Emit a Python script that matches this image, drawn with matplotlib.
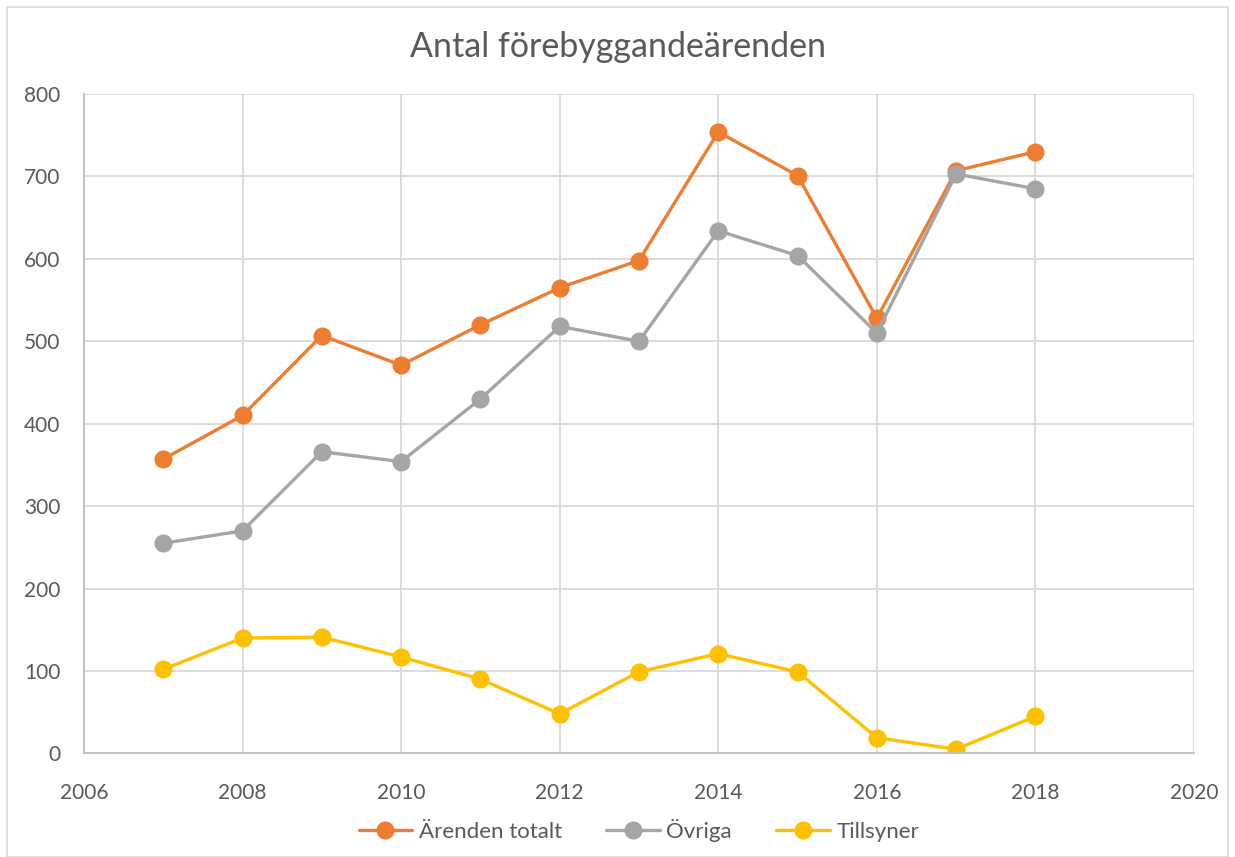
import matplotlib.pyplot as plt
from matplotlib.patches import Rectangle

plt.rcParams['font.family'] = ['Lato', 'DejaVu Sans']

years = [2007, 2008, 2009, 2010, 2011, 2012, 2013, 2014, 2015, 2016, 2017, 2018]
arenden_totalt = [357, 410, 507, 471, 520, 565, 598, 754, 701, 528, 707, 730]
ovriga = [255, 270, 366, 354, 430, 518, 500, 634, 604, 510, 703, 685]
tillsyner = [102, 140, 141, 117, 90, 48, 99, 121, 99, 19, 5, 45]

series = [
    ("Ärenden totalt", arenden_totalt, "#ED7D31"),
    ("Övriga", ovriga, "#A5A5A5"),
    ("Tillsyner", tillsyner, "#FFC000"),
]

text_color = "#595959"

fig = plt.figure(figsize=(12.35, 8.57), dpi=100)
ax = fig.add_axes([0.068, 0.1209, 0.8988, 0.7694])

for name, vals, color in series:
    ax.plot(years, vals, color=color, linewidth=2.4, marker='o', markersize=12,
            label=name, solid_capstyle='round')

ax.set_xlim(2006, 2020)
ax.set_ylim(0, 800)
ax.set_xticks(range(2006, 2021, 2))
ax.set_yticks(range(0, 801, 100))
ax.grid(True, color="#D9D9D9", linewidth=1.3)
ax.set_axisbelow(True)
for side in ['top', 'right']:
    ax.spines[side].set_visible(False)
for side in ['left', 'bottom']:
    ax.spines[side].set_color("#BFBFBF")
    ax.spines[side].set_linewidth(1.3)
ax.tick_params(length=0, labelsize=15, colors=text_color)
ax.tick_params(axis='x', pad=21)
ax.tick_params(axis='y', pad=17)

fig.text(0.5, 0.945, "Antal förebyggandeärenden", ha='center', va='center',
         fontsize=24.5, color=text_color)

ax.legend(loc='center', bbox_to_anchor=(0.5, -0.117), ncol=3, frameon=False,
          fontsize=16, labelcolor=text_color, handlelength=2.4, columnspacing=2.0,
          handletextpad=0.3)

fig.patches.append(Rectangle((0.006, 0.0), 0.988, 0.992, transform=fig.transFigure,
                             fill=False, edgecolor="#D9D9D9", linewidth=1.2))

fig.savefig("out.png", dpi=100)
